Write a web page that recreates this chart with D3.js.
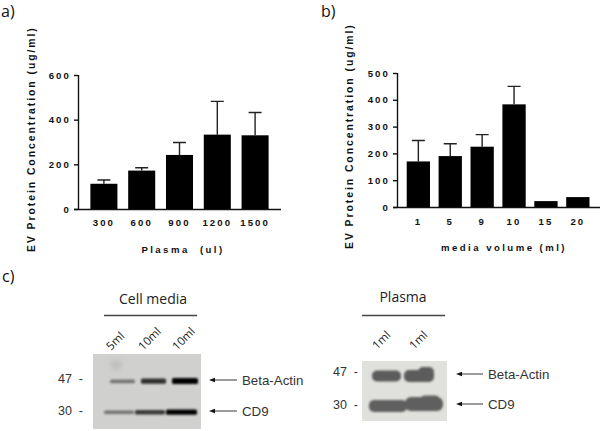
<!DOCTYPE html>
<html><head><meta charset="utf-8">
<script src="https://cdn.jsdelivr.net/npm/d3@7"></script>
<style>html,body{margin:0;padding:0;background:#fff}svg{display:block}</style></head>
<body><svg id="c" width="600" height="431"></svg>
<script>
const plasmaCategories=["300","600","900","1200","1500"];
const plasmaValues=[113,172,242,333,330];
const plasmaUpper=[130,185,298,482,432];
const plasmaTicks=[0,200,400,600];
const mediaCategories=["1","5","9","10","15","20"];
const mediaValues=[170,190,225,383,22,37];
const mediaUpper=[248,236,270,450,22,37];
const mediaTicks=[0,100,200,300,400,500];
const cellLanes=["5ml","10ml","10ml"];
const cellActin=[0.3,0.72,1];
const cellCD9=[0.32,0.66,1];
const plasmaLanes=["1ml","1ml"];
const markers=["47","30"];
const targets=["Beta-Actin","CD9"];

const svg=d3.select("#c");
const chartFont="Liberation Sans, Arial, sans-serif";
const labelFont="'Open Sans', 'Noto Sans', sans-serif";

const defs=svg.append("defs");
[["b1",0.8],["b2",1.0],["b3",3]].forEach(([id,s])=>defs.append("filter").attr("id",id)
  .attr("x","-30%").attr("y","-100%").attr("width","160%").attr("height","300%")
  .append("feGaussianBlur").attr("stdDeviation",s));

function barChart(o){
  const g=svg.append("g");
  const y=d3.scaleLinear().domain(o.domain).range(o.yRange);
  const x=d3.scaleBand().domain(o.cats).range(o.bandRange).paddingInner(o.padding).paddingOuter(o.padding/2);
  const ya=d3.axisLeft(y).tickValues(o.ticks).tickSize(4).tickPadding(3);
  const xa=d3.axisBottom(x).tickSize(0).tickPadding(o.tickPad);
  const ag=g.append("g").attr("transform",`translate(${o.axisX},0)`).call(ya);
  const bg=g.append("g").attr("transform",`translate(0,${o.yRange[0]})`).call(xa);
  bg.select(".domain").attr("d",`M${o.axisX-4},0.5H${o.axisEnd}`);
  ag.select(".domain").attr("d",`M0.5,${o.yRange[1]}V${o.yRange[0]}`);
  [ag,bg].forEach(a=>{
    a.selectAll(".domain,.tick line").attr("stroke","#111").attr("stroke-width",1.4);
    a.selectAll("text").attr("fill","#111").style("font",`bold 9.6px ${chartFont}`).style("letter-spacing","2.1px");
  });
  o.cats.forEach((c,i)=>{
    const cx=x(c)+x.bandwidth()/2;
    if(o.upper[i]>o.vals[i]){
      g.append("path").attr("fill","none").attr("stroke","#222").attr("stroke-width",1.4)
       .attr("d",`M${cx},${y(o.vals[i])}V${y(o.upper[i])}M${cx-6.5},${y(o.upper[i])}H${cx+6.5}`);
    }
    g.append("rect").attr("x",x(c)).attr("width",x.bandwidth())
      .attr("y",y(o.vals[i])).attr("height",y(0)-y(o.vals[i])).attr("fill","#000");
  });
  g.append("text").attr("transform",`translate(${o.ylx},${o.yly}) rotate(-90)`)
    .attr("text-anchor","start").attr("fill","#111")
    .style("font",`bold 10.4px ${chartFont}`).style("letter-spacing","1.95px").text(o.ylabel);
  g.append("text").attr("x",o.xlx).attr("y",o.xly).attr("text-anchor","middle").attr("fill","#111")
    .style("font",`bold 9.6px ${chartFont}`).style("letter-spacing","2.45px").attr("xml:space","preserve").text(o.xlabel);
}
barChart({cats:plasmaCategories,vals:plasmaValues,upper:plasmaUpper,ticks:plasmaTicks,domain:[0,600],
  yRange:[209,75],axisX:78,bandRange:[85,274],padding:0.285,tickPad:10,axisEnd:281,ylx:35,yly:252,ylabel:"EV Protein Concentration (ug/ml)",
  xlx:183,xly:253,xlabel:"Plasma  (ul)"});
barChart({cats:mediaCategories,vals:mediaValues,upper:mediaUpper,ticks:mediaTicks,domain:[0,500],
  yRange:[207,73],axisX:397,bandRange:[402.4,593.8],padding:0.27,tickPad:11,axisEnd:600,ylx:353,yly:249,ylabel:"EV Protein Concentration (ug/ml)",
  xlx:504,xly:251,xlabel:"media volume (ml)"});

// panel letters
[["a)",1,17],["b)",321,17],["c)",2,282]].forEach(([t,x,yy])=>
  svg.append("text").attr("x",x).attr("y",yy).attr("fill","#111").style("font",`16px ${labelFont}`).text(t));

function blot(o){
  const g=svg.append("g");
  g.append("text").attr("x",o.titleX).attr("y",o.titleY).attr("text-anchor","middle").attr("fill","#222")
   .style("font",`14px ${labelFont}`).text(o.title);
  g.append("line").attr("x1",o.lineX[0]).attr("x2",o.lineX[1]).attr("y1",o.lineY).attr("y2",o.lineY)
   .attr("stroke","#444").attr("stroke-width",1.4);
  o.lanes.forEach((l,i)=>g.append("text").attr("transform",`translate(${o.laneX[i]},${o.laneY}) rotate(-45)`)
    .attr("fill","#222").style("font",`11.5px ${labelFont}`).text(l));
  g.append("rect").attr("x",o.box[0]).attr("y",o.box[1]).attr("width",o.box[2]).attr("height",o.box[3]).attr("fill",o.boxFill);
  if(o.smudge) g.append("ellipse").attr("cx",o.smudge[0]).attr("cy",o.smudge[1]).attr("rx",o.smudge[2]).attr("ry",o.smudge[3])
    .attr("fill","#b5b5b5").attr("filter","url(#b3)");
  const bands=g.append("g").attr("filter",`url(#${o.filter})`);
  o.bands.forEach(b=>bands.append("rect").attr("x",b[0]).attr("y",b[1]).attr("width",b[2]).attr("height",b[3])
    .attr("rx",b[4]).attr("fill",b[5]).attr("fill-opacity",b[6]));
  markers.forEach((m,i)=>{
    g.append("text").attr("x",o.markX).attr("y",o.rowY[i]+4).attr("fill","#333").style("font",`12.5px ${chartFont}`).attr("xml:space","preserve").text(m+"  -");
    g.append("path").attr("fill","none").attr("stroke","#222").attr("stroke-width",0.9)
      .attr("d",`M${o.arrow[0]+3},${o.rowY[i]+o.arrowDy[i]}H${o.arrow[1]}`);
    g.append("path").attr("fill","#111")
      .attr("d",d3.line()([[o.arrow[0],o.rowY[i]+o.arrowDy[i]],[o.arrow[0]+6,o.rowY[i]+o.arrowDy[i]-2.2],[o.arrow[0]+6,o.rowY[i]+o.arrowDy[i]+2.2]])+"Z");
    g.append("text").attr("x",o.arrow[1]+5).attr("y",o.rowY[i]+o.arrowDy[i]+4.5).attr("fill","#333").style("font",`13.3px ${chartFont}`).text(targets[i]);
  });
}
const cellX=[[110,25],[141,25],[172,26]];
const cellBands=[];
cellActin.forEach((v,i)=>cellBands.push([cellX[i][0],380-v*2,cellX[i][1],3+v*3,1.5,"#000",0.2+0.8*v]));
cellCD9.forEach((v,i)=>cellBands.push([cellX[i][0]-6,411-v*1.6,cellX[i][1]+5,2.6+v*2.8,1.5,"#000",0.2+0.8*v]));
blot({title:"Cell media",titleX:153,titleY:304,lineX:[104,197],lineY:315.5,lanes:cellLanes,laneX:[111,143,177],laneY:351,
  box:[93,354,108,75],boxFill:"#d0d0ce",smudge:[116,365,5,4],filter:"b1",bands:cellBands,markX:58,rowY:[379,411],
  arrow:[209,237],arrowDy:[1,0]});
blot({title:"Plasma",titleX:403,titleY:302,lineX:[362,445],lineY:315.5,lanes:plasmaLanes,laneX:[377,414],laneY:350,
  box:[362,361,85,60],boxFill:"#e0e0dc",filter:"b2",
  bands:[[372,370.5,29,11,5,"#5c5c5c",1],[404,370,30,12,5,"#5c5c5c",1],[418,367,16,12,5,"#5c5c5c",1],
         [369,400,38,12,5,"#5e5e5e",1],[382,403,22,9,4,"#5e5e5e",1],[405,397,38,14,6,"#5e5e5e",1],[420,395.5,20,10,5,"#5e5e5e",1]],
  markX:333,rowY:[372,405],arrow:[456,483],arrowDy:[2,-1]});
</script></body></html>
